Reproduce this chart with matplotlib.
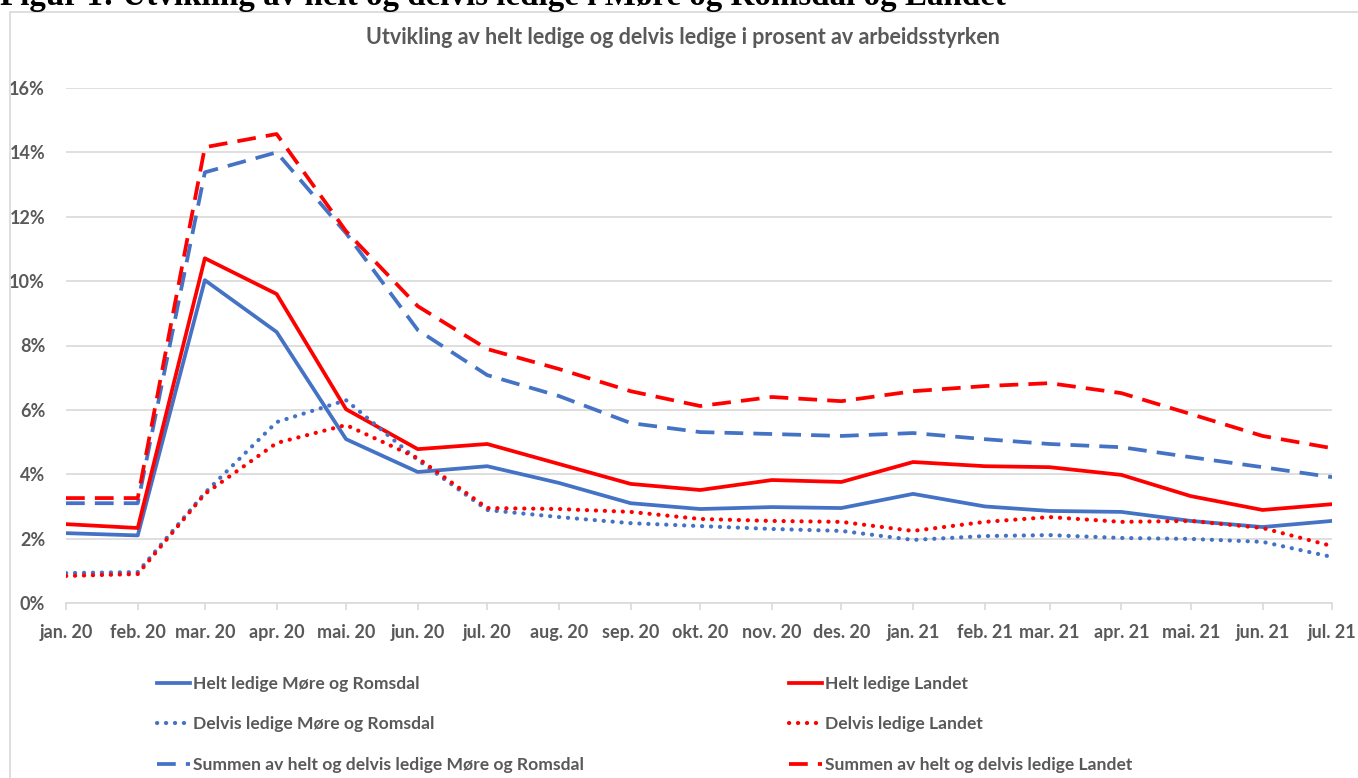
import numpy as np
import pandas as pd
import matplotlib
matplotlib.use("Agg")
import matplotlib.pyplot as plt
from matplotlib.patches import Rectangle

# data (prosent av arbeidsstyrken), jan. 2020 - jul. 2021
maaneder = pd.date_range("2020-01-01", "2021-07-01", freq="MS")
etiketter = ["jan. 20", "feb. 20", "mar. 20", "apr. 20", "mai. 20", "jun. 20",
             "jul. 20", "aug. 20", "sep. 20", "okt. 20", "nov. 20", "des. 20",
             "jan. 21", "feb. 21", "mar. 21", "apr. 21", "mai. 21", "jun. 21",
             "jul. 21"]

helt_mr = [2.17, 2.10, 10.03, 8.42, 5.09, 4.07, 4.25, 3.73, 3.10, 2.92,
           2.98, 2.95, 3.39, 3.00, 2.86, 2.83, 2.55, 2.36, 2.55]
helt_land = [2.45, 2.33, 10.71, 9.60, 6.02, 4.78, 4.94, 4.32, 3.70, 3.51,
             3.82, 3.76, 4.38, 4.25, 4.22, 3.98, 3.32, 2.89, 3.07]
delvis_mr = [0.93, 0.96, 3.42, 5.62, 6.30, 4.44, 2.89, 2.67, 2.48, 2.39,
             2.30, 2.24, 1.96, 2.08, 2.11, 2.02, 1.99, 1.90, 1.43]
delvis_land = [0.84, 0.90, 3.39, 4.97, 5.53, 4.50, 2.95, 2.92, 2.83, 2.61,
               2.55, 2.52, 2.24, 2.52, 2.67, 2.52, 2.55, 2.33, 1.77]
sum_mr = [3.10, 3.10, 13.38, 14.00, 11.49, 8.48, 7.08, 6.43, 5.59, 5.31,
          5.25, 5.19, 5.28, 5.09, 4.94, 4.84, 4.53, 4.22, 3.91]
sum_land = [3.26, 3.26, 14.16, 14.57, 11.55, 9.22, 7.89, 7.27, 6.58, 6.12,
            6.40, 6.27, 6.58, 6.74, 6.83, 6.52, 5.87, 5.19, 4.81]

blaa = "#4472C4"
roed = "#FF0000"
graa = "#595959"
font = ["Lato", "DejaVu Sans"]

fig = plt.figure(figsize=(13.58, 7.78), dpi=100)

# ramme rundt diagrammet
fig.patches.append(Rectangle((9.5 / 1358, -0.05), 1.1, 1 - 11.5 / 778 + 0.05,
                             transform=fig.transFigure, fill=False,
                             edgecolor="#d9d9d9", linewidth=1.2))

fig.text(0.0, 1 - 5 / 778, "Figur 1: Utvikling av helt og delvis ledige i Møre og Romsdal og Landet",
         family="Liberation Serif", fontweight="bold", fontsize=23.8,
         va="baseline", ha="left")

fig.text(683 / 1358, 1 - 38 / 778,
         "Utvikling av helt ledige og delvis ledige i prosent av arbeidsstyrken",
         family=font, fontweight="bold", fontsize=15.5, color=graa,
         ha="center", va="center")

ax = fig.add_axes([66 / 1358, 1 - 603 / 778, (1332 - 66) / 1358, (603 - 88) / 778])

lw = 2.7
l1, = ax.plot(maaneder, helt_mr, color=blaa, lw=lw, solid_joinstyle="round")
l2, = ax.plot(maaneder, helt_land, color=roed, lw=lw, solid_joinstyle="round")
l3, = ax.plot(maaneder, delvis_mr, color=blaa, lw=3.0, linestyle=(0, (0.05, 2.1)),
              dash_capstyle="round")
l4, = ax.plot(maaneder, delvis_land, color=roed, lw=3.0, linestyle=(0, (0.05, 2.1)),
              dash_capstyle="round")
l5, = ax.plot(maaneder, sum_mr, color=blaa, lw=lw, linestyle=(0, (5.0, 2.7)))
l6, = ax.plot(maaneder, sum_land, color=roed, lw=lw, linestyle=(0, (5.0, 2.7)))

ax.set_xlim(maaneder[0], maaneder[-1])
ax.set_ylim(0, 16)
ax.set_yticks(np.arange(0, 17, 2))
ax.set_yticklabels([f"{v}%" for v in range(0, 17, 2)])
ax.set_xticks(maaneder)
ax.set_xticklabels(etiketter)

ax.grid(axis="y", color="#d9d9d9", linewidth=1.2)
ax.set_axisbelow(True)
for s in ["top", "right", "left"]:
    ax.spines[s].set_visible(False)
ax.spines["bottom"].set_color("#d9d9d9")
ax.spines["bottom"].set_linewidth(1.2)
ax.tick_params(axis="y", length=0, pad=15)
ax.tick_params(axis="x", length=5, width=1.2, color="#d9d9d9", pad=10)
for t in ax.get_xticklabels() + ax.get_yticklabels():
    t.set_family(font)
    t.set_fontweight("bold")
    t.set_fontsize(13)
    t.set_color(graa)

leg_kw = dict(frameon=False, loc="upper left", borderpad=0, borderaxespad=0,
              handlelength=1.9, handletextpad=0.15, labelspacing=1.4,
              prop={"family": font, "weight": "bold", "size": 12.6},
              labelcolor=graa)
fig.legend([l1, l3, l5], ["Helt ledige Møre og Romsdal", "Delvis ledige Møre og Romsdal",
                          "Summen av helt og delvis ledige Møre og Romsdal"],
           bbox_to_anchor=(157 / 1358, 1 - 676 / 778), **leg_kw)
fig.legend([l2, l4, l6], ["Helt ledige Landet", "Delvis ledige Landet",
                          "Summen av helt og delvis ledige Landet"],
           bbox_to_anchor=(789 / 1358, 1 - 676 / 778), **leg_kw)

fig.savefig("out.png", dpi=100)
